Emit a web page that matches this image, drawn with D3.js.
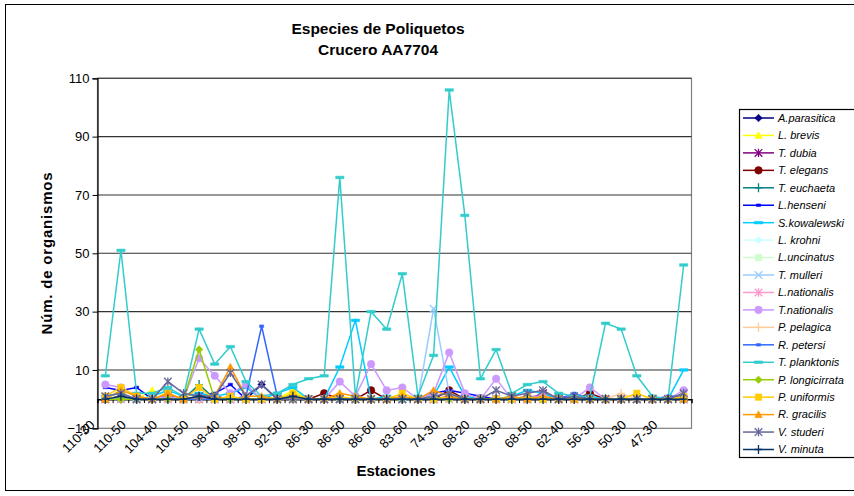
<!DOCTYPE html>
<html>
<head>
<meta charset="utf-8">
<script src="https://cdn.jsdelivr.net/npm/d3@7/dist/d3.min.js"></script>
<style>
  body { margin: 0; background: #fff; }
  svg { display: block; font-family: Arial, "Liberation Sans", sans-serif; }
</style>
</head>
<body>
<svg id="chart" width="854" height="496"></svg>
<script>
// Stations along the cruise track (every other one is labelled on the axis)
const categories = [
  "110-30", "110-40", "110-50", "110-60", "104-40", "104-45", "104-50", "104-60",
  "98-40", "98-45", "98-50", "98-60", "92-50", "92-60", "86-30", "86-40",
  "86-50", "86-55", "86-60", "86-70", "83-60", "80-30", "74-30", "74-40",
  "68-20", "68-25", "68-30", "68-40", "68-50", "68-60", "62-40", "62-50",
  "56-30", "56-40", "50-30", "50-40", "47-30", "47-40"
];

const yTicks = [-10, 10, 30, 50, 70, 90, 110];

// Organisms counted per species at each station
const aParasitica    = [0,0,0,0,0,0,0,0,0,0,5,0,0,0,0,0,0,0,0,0,0,0,0,0,0,0,0,0,0,0,1,0,0,0,0,0,0,0];
const lBrevis        = [0,1,0,3,1,0,1,0,0,0,0,0,3,0,0,0,0,0,0,0,0,1,0,0,0,0,0,0,0,0,0,0,0,0,0,0,0,0];
const tDubia         = [0,1,0,0,1,0,0,0,0,0,0,0,0,0,0,0,0,0,0,0,0,0,1,0,0,0,0,0,2,0,0,0,0,0,0,0,0,0];
const tElegans       = [0,0,0,0,0,0,0,1,0,0,0,0,0,0,2,0,0,3,0,0,0,0,3,0,0,0,0,0,0,1,0,2,0,0,0,0,0,0];
const tEuchaeta      = [0,0,0,0,0,0,5,0,0,0,0,0,0,0,0,0,0,0,0,0,0,0,0,0,0,0,0,0,0,0,0,0,0,0,0,0,0,0];
const lHenseni       = [4,3,4,0,1,0,1,2,5,0,0,0,0,0,0,0,0,0,0,0,0,2,3,2,1,0,0,0,0,0,0,0,0,0,0,0,0,0];
const sKowalewski    = [1,2,0,1,3,1,2,1,2,4,0,2,4,0,0,11,27,0,1,0,0,1,11,1,0,0,1,3,2,0,0,1,0,0,0,0,0,10];
const lKrohni        = [0,0,0,0,0,0,0,0,0,0,0,0,0,0,0,0,0,0,0,0,0,0,0,0,0,0,0,0,0,0,0,0,0,0,0,0,0,0];
const lUncinatus     = [1,0,0,0,0,0,0,0,0,0,0,0,0,0,0,0,1,0,0,0,0,0,0,0,0,0,0,0,0,0,0,0,0,0,0,0,0,0];
const tMulleri       = [0,0,0,0,0,0,0,0,0,0,0,0,0,0,0,0,0,0,0,0,0,31,2,0,0,0,0,0,0,0,0,0,0,0,0,0,0,0];
const lNationalis    = [0,0,0,0,0,0,0,0,0,0,0,0,0,0,0,0,0,0,0,0,0,0,0,0,0,0,0,0,0,0,0,0,0,0,0,0,0,0];
const tNationalis    = [5,4,1,0,1,0,14,8,2,5,0,0,1,0,0,6,1,12,3,4,0,2,16,2,0,7,0,1,1,0,0,4,0,0,0,0,0,3];
const pPelagica      = [0,0,0,0,0,0,0,0,0,0,0,0,0,0,0,0,0,0,0,0,0,0,0,0,0,0,0,0,0,0,0,0,0,2,0,0,0,0];
const rPetersi       = [0,0,0,0,0,0,0,0,0,1,25,1,0,0,0,0,0,0,0,0,0,0,0,0,0,0,0,1,0,0,2,0,0,0,0,0,1,1];
const tPlanktonis    = [8,51,2,2,4,1,24,12,18,6,1,2,5,7,8,76,1,30,24,43,1,15,106,63,7,17,2,5,6,2,1,1,26,24,8,1,0,46];
const pLongicirrata  = [0,0,0,0,0,0,17,0,0,0,0,0,0,0,0,0,0,0,0,0,0,0,0,0,0,0,0,0,0,0,0,0,0,0,0,0,0,0];
const pUniformis     = [1,4,1,0,2,0,4,0,1,0,0,0,2,0,0,1,0,0,0,2,0,0,1,0,0,0,0,1,0,0,0,0,0,0,2,0,0,1];
const rGracilis      = [0,3,1,0,2,0,1,1,11,1,1,0,1,0,0,2,1,0,0,1,0,3,1,0,0,0,1,0,1,0,0,0,0,0,0,0,0,0];
const vStuderi       = [1,2,0,0,6,2,1,1,9,1,5,0,0,0,0,0,0,0,0,0,0,1,2,0,0,3,1,2,3,0,1,0,0,0,0,0,0,2];
const vMinuta        = [0,1,0,0,0,0,1,0,0,0,0,0,1,0,0,0,0,0,0,0,0,0,0,0,0,0,0,0,0,0,0,0,0,0,0,0,0,0];

// Series list: legend name, values, colour and marker shape
const series = [
  { name: "A.parasitica",    values: aParasitica,   color: "#000080", marker: "diamond" },
  { name: "L. brevis",       values: lBrevis,       color: "#FFFF00", marker: "triangle" },
  { name: "T. dubia",        values: tDubia,        color: "#800080", marker: "asterisk" },
  { name: "T. elegans",      values: tElegans,      color: "#800000", marker: "circle" },
  { name: "T. euchaeta",     values: tEuchaeta,     color: "#008080", marker: "plus" },
  { name: "L.henseni",       values: lHenseni,      color: "#0000FF", marker: "shortdash" },
  { name: "S.kowalewski",    values: sKowalewski,   color: "#00CCFF", marker: "dash" },
  { name: "L. krohni",       values: lKrohni,       color: "#CCFFFF", marker: "diamond" },
  { name: "L.uncinatus",     values: lUncinatus,    color: "#CCFFCC", marker: "square" },
  { name: "T. mulleri",      values: tMulleri,      color: "#99CCFF", marker: "x" },
  { name: "L.nationalis",    values: lNationalis,   color: "#FF99CC", marker: "asterisk" },
  { name: "T.nationalis",    values: tNationalis,   color: "#CC99FF", marker: "circle" },
  { name: "P. pelagica",     values: pPelagica,     color: "#FFCC99", marker: "plus" },
  { name: "R. petersi",      values: rPetersi,      color: "#3366FF", marker: "shortdash" },
  { name: "T. planktonis",   values: tPlanktonis,   color: "#33CCCC", marker: "dash" },
  { name: "P. longicirrata", values: pLongicirrata, color: "#99CC00", marker: "diamond" },
  { name: "P. uniformis",    values: pUniformis,    color: "#FFCC00", marker: "square" },
  { name: "R. gracilis",     values: rGracilis,     color: "#FF9900", marker: "triangle" },
  { name: "V. studeri",      values: vStuderi,      color: "#666699", marker: "asterisk" },
  { name: "V. minuta",       values: vMinuta,       color: "#003366", marker: "plus" }
];

const svg = d3.select("#chart");
const font = "Arial, 'Liberation Sans', sans-serif";

// Outer chart frame
svg.append("rect")
  .attr("x", 5.5).attr("y", 4.5).attr("width", 860).attr("height", 486)
  .attr("fill", "#fff").attr("stroke", "#000").attr("stroke-width", 1);

// Plot area geometry
const plot = { left: 97.5, right: 691.5, top: 78.3, bottom: 428.3 };

const x = d3.scaleBand().domain(categories).range([plot.left, plot.right]).padding(0);
const cx = c => x(c) + x.bandwidth() / 2;
const y = d3.scaleLinear().domain([-10, 110]).range([plot.bottom, plot.top]);

// Plot area border
svg.append("rect")
  .attr("x", plot.left).attr("y", plot.top)
  .attr("width", plot.right - plot.left).attr("height", plot.bottom - plot.top)
  .attr("fill", "#fff").attr("stroke", "#808080").attr("stroke-width", 1.2);

// Horizontal gridlines
svg.append("g").selectAll("line")
  .data(yTicks.filter(t => t > -10))
  .join("line")
  .attr("x1", plot.left).attr("x2", plot.right)
  .attr("y1", d => y(d)).attr("y2", d => y(d))
  .attr("stroke", "#333").attr("stroke-width", 1.1);

// Value axis
const yAxis = svg.append("g")
  .attr("transform", `translate(${plot.left},0)`)
  .call(d3.axisLeft(y).tickValues(yTicks).tickSize(5).tickPadding(3).tickFormat(d3.format("d")));
yAxis.select(".domain").attr("stroke", "#000").attr("stroke-width", 1.2);
yAxis.selectAll(".tick line").attr("stroke", "#000");
yAxis.selectAll(".tick text")
  .attr("font-family", font).attr("font-size", 13).attr("fill", "#000");

// Category axis crossing at zero
const xAxis = svg.append("g")
  .attr("transform", `translate(0,${y(0)})`)
  .call(d3.axisBottom(x).tickSize(4).tickFormat(""));
xAxis.select(".domain").attr("stroke", "#000").attr("stroke-width", 1.5);
xAxis.selectAll(".tick line")
  .attr("stroke", "#000")
  .attr("transform", `translate(${-x.bandwidth() / 2},0)`);

// Station labels along the bottom of the plot, every other station
svg.append("g").selectAll("text")
  .data(categories.filter((c, i) => i % 2 === 0))
  .join("text")
  .attr("transform", d => `translate(${cx(d) - 13},${plot.bottom - 6}) rotate(-45)`)
  .attr("text-anchor", "end")
  .attr("dy", "0.35em")
  .attr("font-family", font).attr("font-size", 13)
  .text(d => d);

// Marker shapes
function markerPath(type, s) {
  switch (type) {
    case "diamond":  return `M0,${-s}L${s},0L0,${s}L${-s},0Z`;
    case "triangle": return `M0,${-s}L${s},${s * 0.8}L${-s},${s * 0.8}Z`;
    case "square":   return `M${-s * 0.85},${-s * 0.85}h${s * 1.7}v${s * 1.7}h${-s * 1.7}Z`;
    case "circle":   return d3.symbol(d3.symbolCircle, Math.PI * s * s)();
    case "asterisk": return `M${-s},${-s}L${s},${s}M${-s},${s}L${s},${-s}M0,${-s * 1.1}L0,${s * 1.1}`;
    case "x":        return `M${-s},${-s}L${s},${s}M${-s},${s}L${s},${-s}`;
    case "plus":     return `M${-s},0L${s},0M0,${-s * 1.2}L0,${s * 1.2}`;
    case "dash":     return `M${-s * 1.1},-1.3h${s * 2.2}v2.6h${-s * 2.2}Z`;
    case "shortdash":return `M${-s * 0.55},-1.3h${s * 1.1}v2.6h${-s * 1.1}Z`;
  }
}
const filled = t => !["asterisk", "x", "plus"].includes(t);

function drawMarker(g, type, color, s) {
  g.append("path")
    .attr("d", markerPath(type, s))
    .attr("fill", filled(type) ? color : "none")
    .attr("stroke", color)
    .attr("stroke-width", filled(type) ? 0.5 : 1.3);
}

// Series lines and markers
const line = d3.line().x((d, i) => cx(categories[i])).y(d => y(d));
const seriesG = svg.append("g");
series.forEach(s => {
  const g = seriesG.append("g");
  g.append("path")
    .attr("d", line(s.values))
    .attr("fill", "none")
    .attr("stroke", s.color)
    .attr("stroke-width", 1.5);
  s.values.forEach((v, i) => {
    const m = g.append("g").attr("transform", `translate(${cx(categories[i])},${y(v)})`);
    drawMarker(m, s.marker, s.color, 3.8);
  });
});

// Titles
svg.append("text")
  .attr("x", 378).attr("y", 34)
  .attr("text-anchor", "middle")
  .attr("font-family", font).attr("font-size", 15.5).attr("font-weight", "bold")
  .text("Especies de Poliquetos");
svg.append("text")
  .attr("x", 378).attr("y", 55)
  .attr("text-anchor", "middle")
  .attr("font-family", font).attr("font-size", 15.5).attr("font-weight", "bold")
  .text("Crucero AA7704");

svg.append("text")
  .attr("transform", "translate(52,253) rotate(-90)")
  .attr("text-anchor", "middle")
  .attr("font-family", font).attr("font-size", 15).attr("font-weight", "bold")
  .attr("letter-spacing", 0.8)
  .text("Núm. de organismos");

svg.append("text")
  .attr("x", 396).attr("y", 476)
  .attr("text-anchor", "middle")
  .attr("font-family", font).attr("font-size", 15).attr("font-weight", "bold")
  .text("Estaciones");

// Legend
const legend = svg.append("g");
legend.append("rect")
  .attr("x", 739.5).attr("y", 109.5).attr("width", 130).attr("height", 348)
  .attr("fill", "#fff").attr("stroke", "#000").attr("stroke-width", 1.2);
const ly = d3.scalePoint().domain(series.map(s => s.name)).range([118, 449.5]);
series.forEach(s => {
  const g = legend.append("g").attr("transform", `translate(0,${ly(s.name)})`);
  g.append("line")
    .attr("x1", 743).attr("x2", 774)
    .attr("stroke", s.color).attr("stroke-width", 1.5);
  drawMarker(g.append("g").attr("transform", "translate(758.5,0)"), s.marker, s.color, 3.8);
  g.append("text")
    .attr("x", 778).attr("dy", "0.35em")
    .attr("font-family", font).attr("font-size", 11).attr("font-style", "italic")
    .text(s.name);
});
</script>
</body>
</html>
